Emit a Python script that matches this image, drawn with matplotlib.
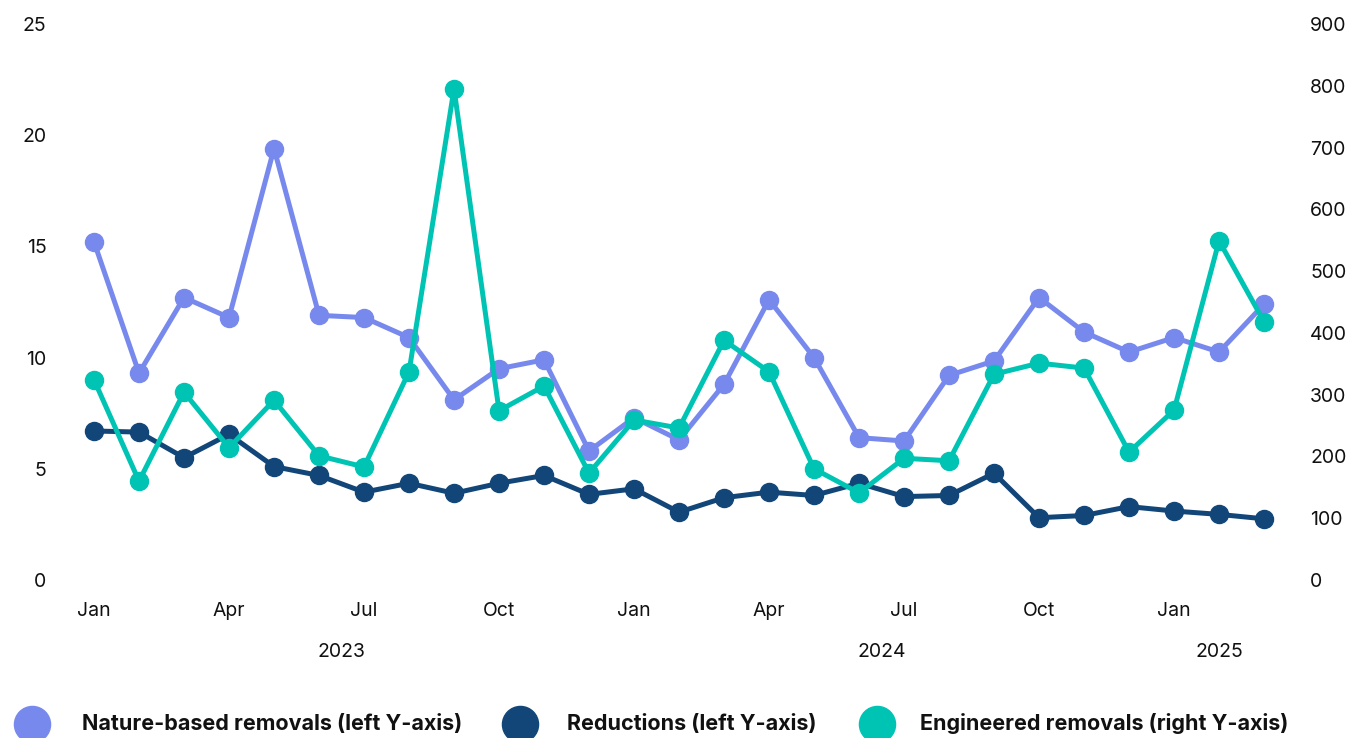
import matplotlib.pyplot as plt
from matplotlib.lines import Line2D

plt.rcParams['font.family'] = ['Inter', 'DejaVu Sans']

# monthly data, Jan 2023 - Mar 2025
months = ['Jan', 'Feb', 'Mar', 'Apr', 'May', 'Jun', 'Jul', 'Aug', 'Sep', 'Oct', 'Nov', 'Dec',
          'Jan', 'Feb', 'Mar', 'Apr', 'May', 'Jun', 'Jul', 'Aug', 'Sep', 'Oct', 'Nov', 'Dec',
          'Jan', 'Feb', 'Mar']
nature = [15.2, 9.3, 12.7, 11.8, 19.4, 11.9, 11.8, 10.9, 8.1, 9.5, 9.9, 5.8,
          7.3, 6.3, 8.8, 12.6, 10.0, 6.4, 6.25, 9.2, 9.85, 12.7, 11.15, 10.25,
          10.9, 10.25, 12.4]
reductions = [6.7, 6.65, 5.5, 6.55, 5.1, 4.7, 3.95, 4.35, 3.9, 4.35, 4.7, 3.85,
              4.1, 3.05, 3.7, 3.95, 3.8, 4.35, 3.75, 3.8, 4.8, 2.8, 2.9, 3.3,
              3.1, 2.95, 2.75]
engineered = [324, 160, 304, 214, 291, 201, 183, 337, 795, 274, 314, 173,
              259, 246, 388, 337, 180, 141, 197, 193, 333, 351, 343, 207,
              275, 549, 418]
years = ['2023', '2024', '2025']
year_centers = [5.5, 17.5, 25]

c_nature = '#7889ED'
c_red = '#124679'
c_eng = '#00C4B3'

x = list(range(len(months)))

fig = plt.figure(figsize=(13.52, 7.38), dpi=100)
ax = fig.add_axes([0.0529, 0.2141, 0.8987, 0.7534])
ax2 = ax.twinx()

ax.plot(x, nature, color=c_nature, lw=3.6, marker='o', ms=13, zorder=3)
ax.plot(x, reductions, color=c_red, lw=3.6, marker='o', ms=13, zorder=2)
ax2.plot(x, engineered, color=c_eng, lw=3.6, marker='o', ms=13)

ax.set_xlim(-0.5, 26.5)
ax.set_ylim(0, 25)
ax2.set_ylim(0, 900)
ax.set_yticks([0, 5, 10, 15, 20, 25])
ax2.set_yticks(range(0, 1000, 100))

tick_pos = [i for i in x if i % 3 == 0]
ax.set_xticks(tick_pos)
ax.set_xticklabels([months[i] for i in tick_pos])

for a in (ax, ax2):
    for s in a.spines.values():
        s.set_visible(False)
    a.tick_params(length=0, labelsize=14, colors='#111111')
ax.tick_params(axis='y', pad=18)
ax2.tick_params(axis='y', pad=17)
ax.tick_params(axis='x', pad=15.5)

for yr, cx in zip(years, year_centers):
    ax.text(cx, -0.13, yr, transform=ax.get_xaxis_transform(), ha='center', va='center',
            fontsize=14, color='#111111')

# legend, laid out by hand along the bottom
labels = ['Nature-based removals (left Y-axis)', 'Reductions (left Y-axis)',
          'Engineered removals (right Y-axis)']
colors = [c_nature, c_red, c_eng]
marker_x = [32, 520, 877]
text_x = [82, 567, 920]
ly = 1 - 724 / 738
for lab, c, mx, tx in zip(labels, colors, marker_x, text_x):
    fig.add_artist(Line2D([mx / 1352], [ly], transform=fig.transFigure, color=c,
                          marker='o', ms=26, ls=''))
    fig.text(tx / 1352, ly, lab, ha='left', va='center', fontsize=15.5,
             fontweight='bold', color='#111111')

fig.savefig('out.png', dpi=100)
